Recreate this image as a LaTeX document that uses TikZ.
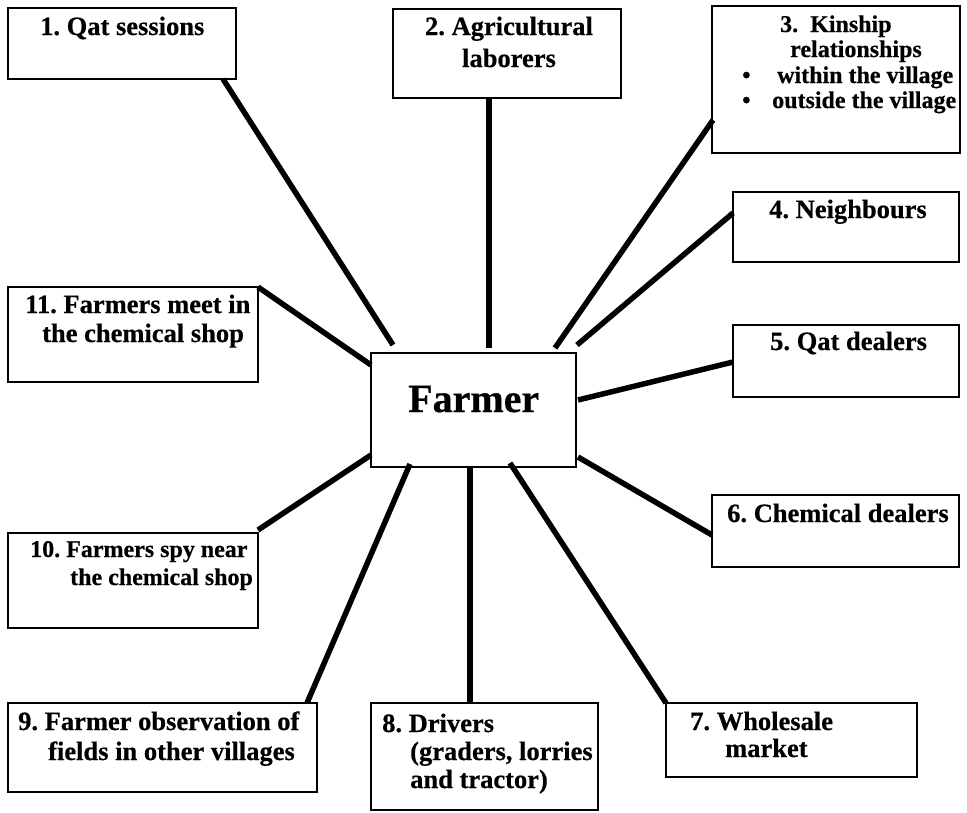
\documentclass[tikz,border=0pt]{standalone}
\usepackage{fontspec}
\setmainfont{Liberation Serif}[BoldFeatures={FakeBold=0.5}]
\usetikzlibrary{calc}
\begin{document}
\frenchspacing
\begin{tikzpicture}[x=1pt,y=-1pt,
  box/.style={draw=black, line width=2.7pt, inner sep=0pt, outer sep=0pt, fill=white},
  conn/.style={line width=5.5pt},
  lbl/.style={inner sep=0pt, anchor=base west, font=\fontsize{26.5}{29}\selectfont\bfseries},
  lblc/.style={lbl, anchor=base},
  lbls/.style={inner sep=0pt, anchor=base west, font=\fontsize{24}{26}\selectfont\bfseries}]
\useasboundingbox (0,0) rectangle (967,812);
% boxes
\node[box, minimum width=228pt, minimum height=71pt] (b1) at (122,43.5) {};
\node[box, minimum width=228pt, minimum height=89pt] (b2) at (507,53.5) {};
\node[box, minimum width=248pt, minimum height=147pt] (b3) at (836,79.5) {};
\node[box, minimum width=226pt, minimum height=70pt] (b4) at (846,227) {};
\node[box, minimum width=226pt, minimum height=72pt] (b5) at (846,361) {};
\node[box, minimum width=247pt, minimum height=72pt] (b6) at (835.5,531) {};
\node[box, minimum width=251pt, minimum height=74pt] (b7) at (791.5,740) {};
\node[box, minimum width=227pt, minimum height=107pt] (b8) at (484.5,756.5) {};
\node[box, minimum width=309pt, minimum height=89pt] (b9) at (162.5,747.5) {};
\node[box, minimum width=250pt, minimum height=95pt] (b10) at (133,580.5) {};
\node[box, minimum width=250pt, minimum height=95pt] (b11) at (133,334.5) {};
\node[box, line width=2.9pt, minimum width=205pt, minimum height=114pt] (farmer) at (473.5,410) {};
% connectors
\draw[conn] ($(b1.south west)+(215,0)$) -- ($(farmer.north west)+(22,-8)$);
\draw[conn] ($(b2.south west)+(96,0)$) -- ($(farmer.north west)+(118,-5)$);
\draw[conn] ($(b3.north west)+(1,114)$) -- ($(farmer.north west)+(184,-5)$);
\draw[conn] ($(b4.north west)+(0,21)$) -- ($(farmer.north east)+(1,-8)$);
\draw[conn] ($(b5.west)+(0,1)$) -- ($(farmer.east)+(2,-10)$);
\draw[conn] ($(farmer.east)+(2,47)$) -- ($(b6.north west)+(0,40)$);
\draw[conn] ($(farmer.south west)+(139,-4)$) -- (b7.north west);
\draw[conn] ($(farmer.south west)+(99,0)$) -- ($(b8.north west)+(99,0)$);
\draw[conn] ($(farmer.south west)+(39,-3)$) -- ($(b9.north west)+(299,0)$);
\draw[conn] ($(b10.north east)+(0,-3)$) -- ($(farmer.west)+(0,45)$);
\draw[conn] (b11.north east) -- ($(farmer.west)+(0,-45)$);
% labels
\node[lbl] (t1) at (40,35) {1. Qat sessions};
\node[lblc] (t2a) at (509,35) {2. Agricultural};
\node[lblc] (t2b) at (509,67) {laborers};
\node[lbls] (t3a) at (780,32) {3.\ \ Kinship};
\node[lbls] (t3b) at (790,57) {relationships};
\node[lbls] (t3c) at (742,83) {\textbullet};
\node[lbls] (t3d) at (777,83) {within the village};
\node[lbls] (t3e) at (742,108) {\textbullet};
\node[lbls] (t3f) at (772,108) {outside the village};
\node[lbl] (t4) at (769,218) {4. Neighbours};
\node[lbl] (t5) at (770,350) {5. Qat dealers};
\node[lbl] (t6) at (727,522) {6. Chemical dealers};
\node[lbl] (t7a) at (690,730) {7. Wholesale};
\node[lbl] (t7b) at (725,757) {market};
\node[lbl] (t8a) at (382,732) {8. Drivers};
\node[lbl] (t8b) at (410,760) {(graders, lorries};
\node[lbl] (t8c) at (410,788) {and tractor)};
\node[lbl] (t9a) at (18,730) {9. Farmer observation of};
\node[lbl] (t9b) at (48,760) {fields in other villages};
\node[lbls] (t10a) at (30,557) {10. Farmers spy near};
\node[lbls] (t10b) at (70,585) {the chemical shop};
\node[lbl] (t11a) at (25,313) {11. Farmers meet in};
\node[lbl] (t11b) at (42,342) {the chemical shop};
\node[inner sep=0pt, anchor=base west, font=\fontsize{40}{44}\selectfont\bfseries] (tf) at (408,412) {Farmer};
\end{tikzpicture}
\end{document}
